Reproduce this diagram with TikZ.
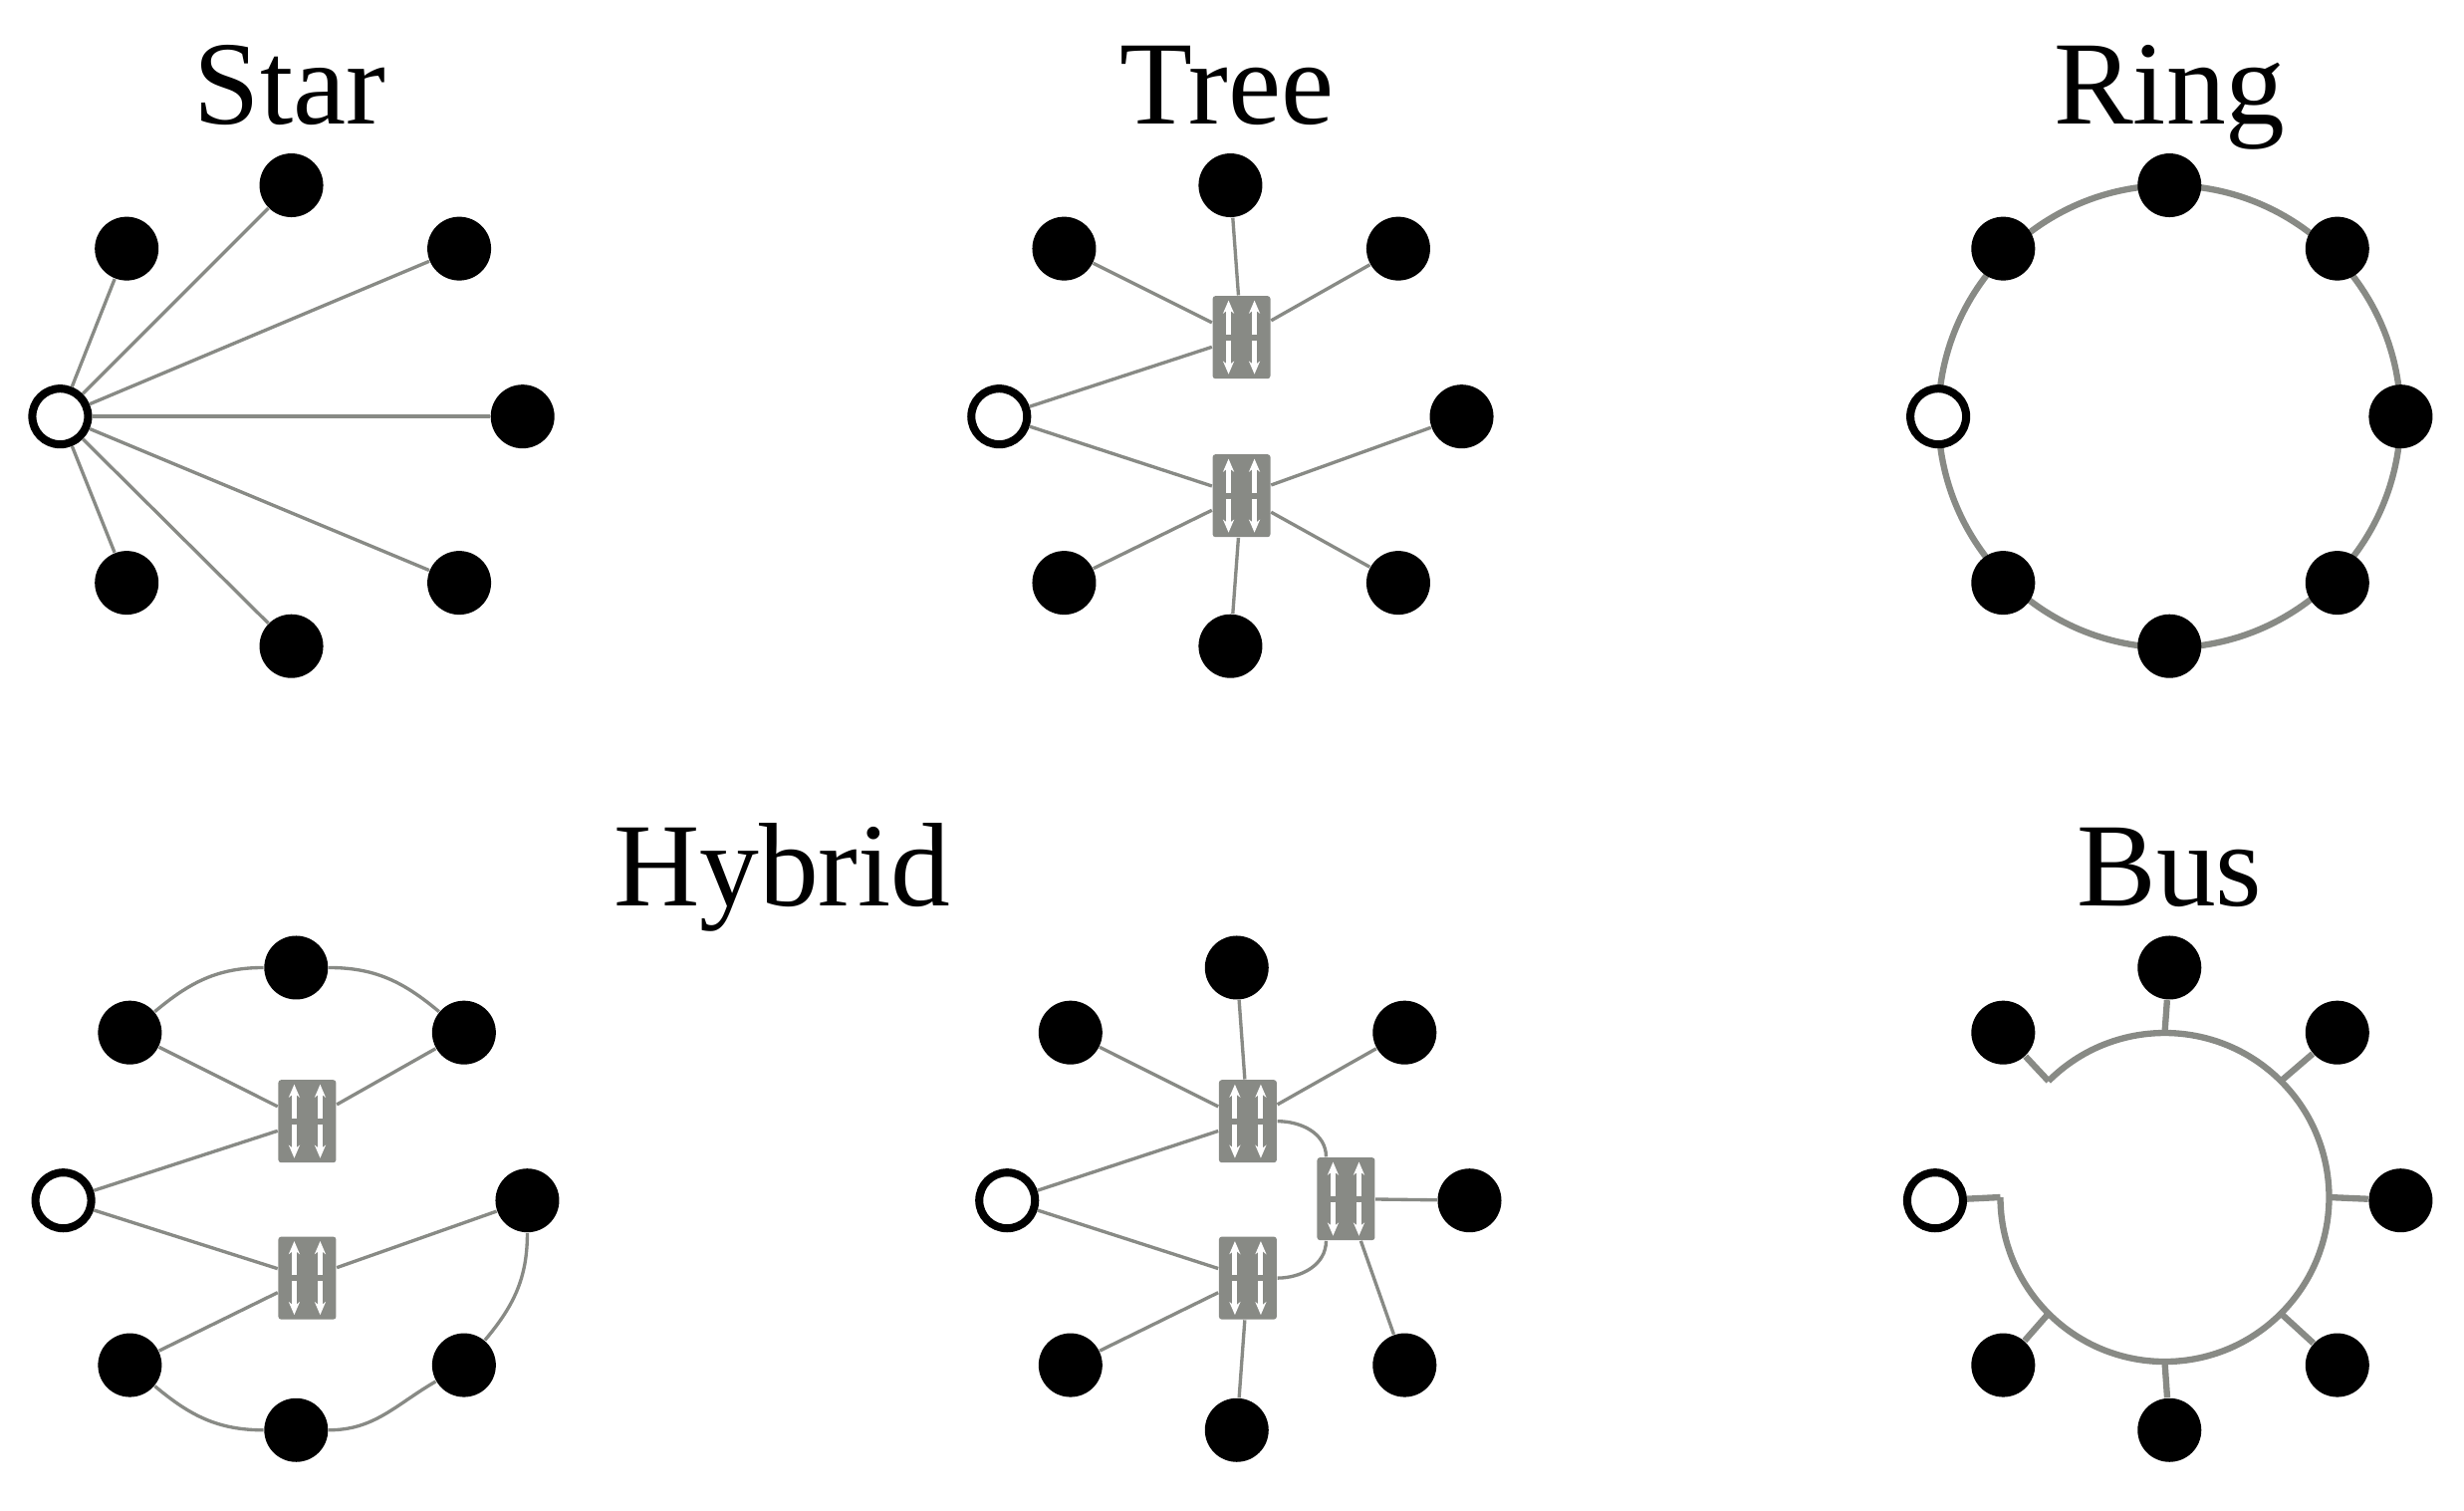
\documentclass[tikz,border=0pt]{standalone}
\usepackage{fontspec}
\setmainfont{Liberation Serif}
\usetikzlibrary{arrows.meta}
\definecolor{lg}{RGB}{136,138,133}
\tikzset{
 dot/.style={circle,fill=black,inner sep=0pt,minimum size=0.64cm},
 hub/.style={circle,draw=black,fill=white,line width=2.3pt,inner sep=0pt,minimum size=0.56cm},
 ln/.style={draw=lg,line width=0.95pt},
 thk/.style={draw=lg,line width=1.8pt},
 sw/.style={rectangle,fill=lg,rounded corners=0.8pt,inner sep=0pt,minimum width=0.58cm,minimum height=0.83cm},
 ar/.style={white,line width=1.4pt,-{Stealth[length=0.13cm,width=0.11cm]}},
 ttl/.style={anchor=base,font=\fontsize{34}{40}\selectfont}
}
\newcommand\swbox[2]{%
 \node[sw] (#1) at (#2) {};
 \foreach \dx in {-0.13,0.13}{
  \draw[ar] ([xshift=\dx cm,yshift=0.03cm]#1.center) -- ++(0,0.34cm);
  \draw[ar] ([xshift=\dx cm,yshift=-0.03cm]#1.center) -- ++(0,-0.34cm);}}
\begin{document}
\begin{tikzpicture}[x=0.0159cm,y=-0.0159cm]
\useasboundingbox (0,0) rectangle (1556,953.5);
% titles
\node[ttl] (tS) at (183,78) {Star};
\node[ttl] (tT) at (775,78) {Tree};
\node[ttl] (tR) at (1370,78) {Ring};
\node[ttl] (tH) at (494,572) {Hybrid};
\node[ttl] (tB) at (1370,572) {Bus};
% Star
\node[hub] (sh) at (38,263) {};
\foreach \n/\p in {1/{80,157},2/{184,117},3/{290,157},4/{330,263},5/{290,368},6/{184,408},7/{80,368}}
  \node[dot] (s\n) at (\p) {};
\foreach \n in {1,...,7} \draw[ln] (sh) -- (s\n);
% Tree
\node[hub] (th) at (631,263) {};
\foreach \n/\p in {1/{672,157},2/{777,117},3/{883,157},4/{923,263},5/{883,368},6/{777,408},7/{672,368}}
  \node[dot] (t\n) at (\p) {};
\swbox{tu}{784,213}
\swbox{tl}{784,313}
\foreach \n in {1,2,3} \draw[ln] (tu) -- (t\n);
\draw[ln] (tu) -- (th);
\draw[ln] (tl) -- (th);
\foreach \n in {4,5,6,7} \draw[ln] (tl) -- (t\n);
% Ring
\coordinate (rc) at (1370,263);
\draw[thk] (rc) circle[radius=2.32cm];
\node[hub] (rh) at (1224,263) {};
\foreach \n/\p in {1/{1265,157},2/{1370,117},3/{1476,157},4/{1516,263},5/{1476,368},6/{1370,408},7/{1265,368}}
  \node[dot] (r\n) at (\p) {};
% Hybrid left
\node[hub] (ah) at (40,758) {};
\foreach \n/\p in {1/{82,652},2/{187,611},3/{293,652},4/{333,758},5/{293,862},6/{187,903},7/{82,862}}
  \node[dot] (a\n) at (\p) {};
\swbox{au}{194,708}
\swbox{al}{194,807}
\draw[ln] (au) -- (a1); \draw[ln] (au) -- (a3); \draw[ln] (au) -- (ah);
\draw[ln] (al) -- (ah); \draw[ln] (al) -- (a4); \draw[ln] (al) -- (a7);
\draw[ln] (a1) to[out=40,in=180] (a2);
\draw[ln] (a2) to[out=0,in=140] (a3);
\draw[ln] (a7) to[out=-40,in=180] (a6);
\draw[ln] (a6) to[out=0,in=-150] (a5);
\draw[ln] (a5) to[out=50,in=-90] (a4);
% Hybrid middle
\node[hub] (mh) at (636,758) {};
\foreach \n/\p in {1/{676,652},2/{781,611},3/{887,652},4/{928,758},5/{887,862},6/{781,903},7/{676,862}}
  \node[dot] (m\n) at (\p) {};
\swbox{mu}{788,708}
\swbox{mr}{850,757}
\swbox{ml}{788,807}
\foreach \n in {1,2,3} \draw[ln] (mu) -- (m\n);
\draw[ln] (mu) -- (mh);
\draw[ln] (ml) -- (mh); \draw[ln] (ml) -- (m7); \draw[ln] (ml) -- (m6);
\draw[ln] (mr) -- (m4); \draw[ln] (mr) -- (m5);
\draw[ln] (mu.east) to[out=0,in=90] ([xshift=-0.2cm]mr.north);
\draw[ln] (ml.east) to[out=0,in=-90] ([xshift=-0.2cm]mr.south);
% Bus
\coordinate (bc) at (1367,756);
\draw[thk] ([shift={(135:1.65cm)}]bc) arc[start angle=135,end angle=-180,radius=1.65cm];
\node[hub] (bh) at (1222,758) {};
\foreach \n/\p in {1/{1265,652},2/{1370,611},3/{1476,652},4/{1516,758},5/{1476,862},6/{1370,903},7/{1265,862}}
  \node[dot] (b\n) at (\p) {};
\draw[thk] (bh) -- ([shift={(180:1.65cm)}]bc);
\draw[thk] (b1) -- ([shift={(135:1.65cm)}]bc);
\draw[thk] (b2) -- ([shift={(90:1.65cm)}]bc);
\draw[thk] (b3) -- ([shift={(45:1.65cm)}]bc);
\draw[thk] (b4) -- ([shift={(0:1.65cm)}]bc);
\draw[thk] (b5) -- ([shift={(-45:1.65cm)}]bc);
\draw[thk] (b6) -- ([shift={(-90:1.65cm)}]bc);
\draw[thk] (b7) -- ([shift={(-135:1.65cm)}]bc);
\end{tikzpicture}
\end{document}
